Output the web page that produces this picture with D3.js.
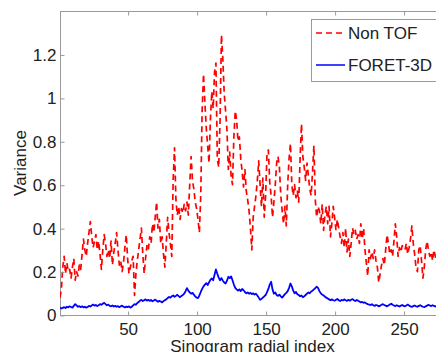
<!DOCTYPE html>
<html>
<head>
<meta charset="utf-8">
<script src="https://cdn.jsdelivr.net/npm/d3@7"></script>
<style>
  html, body { margin: 0; padding: 0; background: #fff; }
  svg { display: block; font-family: "Liberation Sans", Arial, Helvetica, sans-serif; }
</style>
</head>
<body>
<svg id="chart" width="436" height="352"></svg>
<script>
// Variance per sinogram radial bin, indices 1..280
const nonTof = [
  0.08, 0.12, 0.22, 0.27, 0.19, 0.24, 0.20, 0.21, 0.17, 0.22,
  0.26, 0.16, 0.20, 0.18, 0.23, 0.21, 0.28, 0.35, 0.30, 0.27,
  0.33, 0.38, 0.43, 0.36, 0.31, 0.34, 0.37, 0.30, 0.34, 0.28,
  0.21, 0.30, 0.37, 0.33, 0.27, 0.30, 0.26, 0.34, 0.23, 0.29,
  0.33, 0.38, 0.30, 0.23, 0.25, 0.20, 0.24, 0.31, 0.37, 0.26,
  0.19, 0.22, 0.25, 0.27, 0.09, 0.19, 0.25, 0.30, 0.35, 0.40,
  0.28, 0.19, 0.26, 0.32, 0.30, 0.36, 0.33, 0.42, 0.38, 0.45,
  0.52, 0.40, 0.44, 0.33, 0.36, 0.28, 0.22, 0.33, 0.45, 0.38,
  0.33, 0.27, 0.62, 0.77, 0.53, 0.46, 0.50, 0.44, 0.49, 0.47,
  0.51, 0.48, 0.52, 0.46, 0.60, 0.73, 0.62, 0.58, 0.52, 0.49,
  0.44, 0.38, 0.55, 0.94, 1.11, 0.98, 0.86, 0.78, 0.70, 0.90,
  1.03, 0.95, 1.12, 1.16, 0.72, 0.68, 0.90, 1.29, 1.18, 1.02,
  0.94, 0.85, 0.67, 0.75, 0.64, 0.60, 0.82, 0.94, 0.90, 0.80,
  0.82, 0.72, 0.66, 0.59, 0.67, 0.57, 0.53, 0.48, 0.40, 0.30,
  0.45, 0.50, 0.55, 0.62, 0.71, 0.60, 0.50, 0.63, 0.45, 0.55,
  0.74, 0.76, 0.61, 0.55, 0.45, 0.52, 0.60, 0.70, 0.73, 0.68,
  0.55, 0.48, 0.42, 0.50, 0.41, 0.60, 0.72, 0.79, 0.60, 0.55,
  0.60, 0.54, 0.57, 0.52, 0.72, 0.88, 0.73, 0.68, 0.62, 0.70,
  0.64, 0.58, 0.55, 0.66, 0.78, 0.53, 0.45, 0.50, 0.48, 0.42,
  0.51, 0.39, 0.46, 0.50, 0.42, 0.50, 0.36, 0.42, 0.50, 0.45,
  0.39, 0.44, 0.40, 0.36, 0.33, 0.38, 0.31, 0.40, 0.29, 0.35,
  0.27, 0.33, 0.40, 0.37, 0.39, 0.35, 0.37, 0.33, 0.42, 0.35,
  0.40, 0.30, 0.24, 0.18, 0.30, 0.26, 0.29, 0.26, 0.30, 0.25,
  0.22, 0.15, 0.19, 0.23, 0.26, 0.23, 0.30, 0.37, 0.33, 0.28,
  0.30, 0.27, 0.34, 0.42, 0.36, 0.27, 0.31, 0.29, 0.32, 0.31,
  0.30, 0.33, 0.28, 0.31, 0.35, 0.41, 0.33, 0.28, 0.22, 0.20,
  0.30, 0.32, 0.25, 0.17, 0.22, 0.30, 0.34, 0.30, 0.27, 0.29,
  0.25, 0.30, 0.27, 0.24, 0.28, 0.26, 0.30, 0.27, 0.25, 0.28
];

const foret3d = [
  0.035, 0.030, 0.033, 0.036, 0.032, 0.038, 0.035, 0.040, 0.037, 0.034,
  0.042, 0.050, 0.044, 0.038, 0.041, 0.036, 0.040, 0.035, 0.038, 0.034,
  0.037, 0.042, 0.039, 0.044, 0.048, 0.043, 0.046, 0.041, 0.045, 0.050,
  0.047, 0.052, 0.056, 0.050, 0.045, 0.048, 0.042, 0.040, 0.044, 0.039,
  0.042, 0.038, 0.041, 0.036, 0.040, 0.043, 0.038, 0.035, 0.039, 0.036,
  0.040, 0.034, 0.038, 0.044, 0.050, 0.047, 0.055, 0.060, 0.066, 0.070,
  0.064, 0.068, 0.072, 0.066, 0.070, 0.065, 0.069, 0.063, 0.067, 0.071,
  0.066, 0.061, 0.065, 0.062, 0.058, 0.064, 0.068, 0.072, 0.078, 0.083,
  0.080, 0.086, 0.090, 0.084, 0.088, 0.093, 0.087, 0.082, 0.088, 0.092,
  0.098, 0.110, 0.124, 0.112, 0.104, 0.098, 0.102, 0.094, 0.086, 0.080,
  0.078, 0.090, 0.106, 0.120, 0.132, 0.140, 0.147, 0.138, 0.150, 0.162,
  0.168, 0.160, 0.185, 0.210, 0.190, 0.172, 0.160, 0.170, 0.158, 0.150,
  0.145, 0.158, 0.176, 0.170, 0.178, 0.160, 0.140, 0.125, 0.118, 0.112,
  0.118, 0.110, 0.120, 0.114, 0.106, 0.100, 0.104, 0.098, 0.102, 0.096,
  0.100, 0.094, 0.098, 0.090, 0.080, 0.070, 0.074, 0.080, 0.086, 0.092,
  0.105, 0.120, 0.140, 0.153, 0.118, 0.098, 0.104, 0.092, 0.088, 0.094,
  0.086, 0.080, 0.088, 0.096, 0.102, 0.110, 0.125, 0.145, 0.132, 0.112,
  0.100, 0.106, 0.096, 0.092, 0.086, 0.090, 0.082, 0.086, 0.092, 0.098,
  0.104, 0.100, 0.108, 0.112, 0.118, 0.124, 0.130, 0.125, 0.110, 0.100,
  0.094, 0.090, 0.084, 0.080, 0.076, 0.072, 0.068, 0.072, 0.068, 0.066,
  0.070, 0.074, 0.068, 0.064, 0.070, 0.067, 0.072, 0.068, 0.065, 0.070,
  0.066, 0.070, 0.073, 0.068, 0.064, 0.069, 0.066, 0.062, 0.058, 0.060,
  0.056, 0.058, 0.053, 0.050, 0.048, 0.046, 0.050, 0.045, 0.042, 0.046,
  0.044, 0.040, 0.043, 0.047, 0.050, 0.046, 0.043, 0.040, 0.044, 0.048,
  0.052, 0.047, 0.044, 0.041, 0.045, 0.042, 0.039, 0.043, 0.046, 0.042,
  0.040, 0.044, 0.048, 0.043, 0.040, 0.037, 0.041, 0.044, 0.040, 0.038,
  0.042, 0.045, 0.041, 0.038, 0.036, 0.040, 0.043, 0.047, 0.044, 0.041,
  0.045, 0.042, 0.039, 0.043, 0.040, 0.038, 0.041, 0.044, 0.040, 0.042
];

const xTicks = [50, 100, 150, 200, 250];
const yTicks = [0, 0.2, 0.4, 0.6, 0.8, 1, 1.2];
const seriesNames = ["Non TOF", "FORET-3D"];
const xLabel = "Sinogram radial index";
const yLabel = "Variance";

const svg = d3.select("#chart");
const plotLeft = 60, plotRight = 445, plotTop = 11, plotBottom = 315;
const axisColor = "#9a9a9a";
const textColor = "#222";
const fontSize = 17;

const x = d3.scaleLinear().domain([1, 280]).range([plotLeft, plotRight]);
const y = d3.scaleLinear().domain([0, 1.4]).range([plotBottom, plotTop]);

svg.append("defs").append("clipPath").attr("id", "plotclip")
  .append("rect").attr("x", plotLeft).attr("y", plotTop)
  .attr("width", plotRight - plotLeft).attr("height", plotBottom - plotTop);

// plot frame
svg.append("rect")
  .attr("x", plotLeft + 0.5).attr("y", plotTop + 0.5)
  .attr("width", plotRight - plotLeft).attr("height", plotBottom - plotTop)
  .attr("fill", "none").attr("stroke", axisColor).attr("stroke-width", 1);

const line = d3.line()
  .x((d, i) => x(i + 1))
  .y(d => y(d));

const plot = svg.append("g").attr("clip-path", "url(#plotclip)");

plot.append("path")
  .datum(nonTof)
  .attr("d", line)
  .attr("fill", "none")
  .attr("stroke", "#ff0000")
  .attr("stroke-width", 1.7)
  .attr("stroke-dasharray", "6 4")
  .attr("stroke-linejoin", "round");

plot.append("path")
  .datum(foret3d)
  .attr("d", line)
  .attr("fill", "none")
  .attr("stroke", "#0000ff")
  .attr("stroke-width", 1.8)
  .attr("stroke-linejoin", "round");

function styleAxis(g) {
  g.select(".domain").remove();
  g.selectAll(".tick line").attr("stroke", axisColor);
  g.selectAll(".tick text")
    .attr("fill", textColor)
    .style("font-size", fontSize + "px")
    .style("font-family", '"Liberation Sans", Arial, sans-serif');
}

// bottom axis (ticks inward)
svg.append("g")
  .attr("transform", `translate(0.5,${plotBottom + 0.5})`)
  .call(d3.axisBottom(x).tickValues(xTicks).tickSizeInner(-4).tickSizeOuter(0).tickPadding(7).tickFormat(d3.format("d")))
  .call(styleAxis);

// top axis: tick marks only
svg.append("g")
  .attr("transform", `translate(0.5,${plotTop + 0.5})`)
  .call(d3.axisTop(x).tickValues(xTicks).tickSizeInner(-4).tickSizeOuter(0).tickFormat(""))
  .call(styleAxis);

// left axis
svg.append("g")
  .attr("transform", `translate(${plotLeft + 0.5},0.5)`)
  .call(d3.axisLeft(y).tickValues(yTicks).tickSizeInner(-4).tickSizeOuter(0).tickPadding(4).tickFormat(d => d3.format("")(d)))
  .call(styleAxis);

// right axis tick marks
svg.append("g")
  .attr("transform", `translate(${plotRight + 0.5},0.5)`)
  .call(d3.axisRight(y).tickValues(yTicks).tickSizeInner(-4).tickSizeOuter(0).tickFormat(""))
  .call(styleAxis);

// axis titles
svg.append("text")
  .attr("x", (plotLeft + plotRight) / 2).attr("y", 352)
  .attr("text-anchor", "middle")
  .attr("fill", textColor)
  .style("font-size", fontSize + "px")
  .text(xLabel);

svg.append("text")
  .attr("transform", `translate(26,${(plotTop + plotBottom) / 2}) rotate(-90)`)
  .attr("text-anchor", "middle")
  .attr("fill", textColor)
  .style("font-size", fontSize + "px")
  .text(yLabel);

// legend
const legend = svg.append("g");
legend.append("rect")
  .attr("x", 311.5).attr("y", 19.5)
  .attr("width", 129).attr("height", 62)
  .attr("fill", "#fff").attr("stroke", axisColor).attr("stroke-width", 1);

const legendItems = [
  { name: seriesNames[0], color: "#ff0000", dash: "6 4", y: 33 },
  { name: seriesNames[1], color: "#0000ff", dash: null, y: 65 }
];
legendItems.forEach(it => {
  legend.append("line")
    .attr("x1", 316).attr("x2", 345)
    .attr("y1", it.y).attr("y2", it.y)
    .attr("stroke", it.color).attr("stroke-width", 1.5)
    .attr("stroke-dasharray", it.dash);
  legend.append("text")
    .attr("x", 348).attr("y", it.y + 6)
    .attr("fill", textColor)
    .style("font-size", fontSize + "px")
    .text(it.name);
});
</script>
</body>
</html>
